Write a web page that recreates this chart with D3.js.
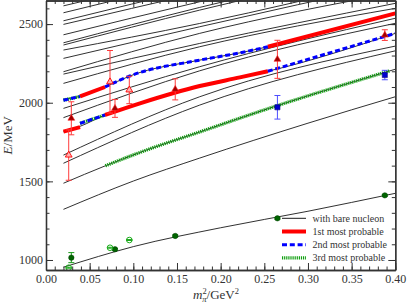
<!DOCTYPE html>
<html><head><meta charset="utf-8">
<script src="https://cdnjs.cloudflare.com/ajax/libs/d3/7.8.5/d3.min.js"></script>
<style>
body{margin:0;background:#fff}
text{font-family:"Liberation Serif",serif}
</style></head><body>
<svg id="chart" width="407" height="304"></svg>
<script>

// energy levels with bare nucleon, each [m_pi^2 (GeV^2), E (MeV)]
var levels = [
  [[0.02,954],[0.1,1085],[0.2,1205],[0.3,1310],[0.4,1424]],
  [[0.02,1322],[0.1,1502],[0.176,1648],[0.3,1870],[0.4,2038]],
  [[0.02,1488],[0.068,1599],[0.115,1699],[0.176,1814],[0.253,1960],[0.4,2213]],
  [[0.02,1615],[0.176,1985],[0.4,2330]],
  [[0.02,1667],[0.176,2038],[0.4,2360]],
  [[0.02,1816],[0.039,1850],[0.0676,1922],[0.1076,1996],[0.176,2106],[0.222,2161],[0.254,2200],[0.4,2441]],
  [[0.02,1905],[0.176,2203],[0.4,2505]],
  [[0.02,1964],[0.176,2229],[0.4,2537]],
  [[0.02,2023],[0.039,2040],[0.0676,2100],[0.096,2170],[0.176,2271],[0.222,2317],[0.254,2356],[0.4,2568]],
  [[0.02,2123],[0.176,2356],[0.4,2600]],
  [[0.02,2182],[0.176,2377],[0.4,2632]],
  [[0.02,2197],[0.176,2441],[0.4,2700]],
  [[0.02,2282],[0.176,2483],[0.4,2760]],
  [[0.02,2335],[0.176,2504],[0.4,2790]],
  [[0.02,2367],[0.176,2589],[0.4,2870]],
  [[0.02,2381],[0.176,2606],[0.4,2890]],
  [[0.02,2432],[0.176,2642],[0.4,2920]],
  [[0.02,2498],[0.176,2700],[0.4,2980]],
  [[0.02,2521],[0.176,2730],[0.4,3000]],
  [[0.02,2572],[0.176,2780],[0.4,3050]],
  [[0.02,2616],[0.176,2820],[0.4,3100]]
];

// most probable states, piecewise
var firstSegs = [
  [[0.02,1816],[0.039,1845]],
  [[0.039,2040],[0.0676,2100]],
  [[0.0676,1922],[0.1076,1996],[0.176,2106],[0.222,2161],[0.254,2200]],
  [[0.254,2356],[0.4,2568]]
];
var secondSegs = [
  [[0.02,2016],[0.039,2040]],
  [[0.039,1869],[0.0676,1922]],
  [[0.0676,2100],[0.096,2170],[0.176,2271],[0.222,2317],[0.254,2356]],
  [[0.254,2200],[0.4,2441]]
];
var thirdSegs = [
  [[0.02,2016],[0.039,2040]],
  [[0.039,1869],[0.0676,1922]],
  [[0.068,1599],[0.115,1699],[0.176,1814],[0.253,1960],[0.394,2203]]
];

// lattice set A (filled symbols)
var setA_m2 = [0.029, 0.079, 0.148, 0.265, 0.388];
var setA_nuc = [1015, 1068, 1153, 1265, 1411];
var setA_nucErr = [32, 6, 6, 6, 6];
var setA_first = [1901, 1964, 2085, 2276, 2430];
var setA_firstErr = [105, 57, 67, 121, 34];
var setA2_m2 = [0.265, 0.388];
var setA_second = [1971, 2176];
var setA_secondErr = [75, 30];

// lattice set B (open symbols)
var setB_m2 = [0.026, 0.0733, 0.0954];
var setB_nuc = [951, 1078, 1127];
var setB_nucErr = [3, 3, 3];
var setB_first = [1667, 2133, 2081];
var setB_firstErr = [160, 199, 87];

var legendLabels = ["with bare nucleon", "1st most probable", "2nd most probable", "3rd most probable"];

var xTicks = d3.range(0, 0.4001, 0.05);
var yTicks = [1000, 1500, 2000, 2500];

var svg = d3.select("#chart");
var pLeft = 46, pRight = 395.3, pTop = 0.5, pBottom = 270;

var x = d3.scaleLinear().domain([0, 0.4]).range([pLeft, pRight]);
var y = d3.scaleLinear().domain([936.4, 2650]).range([pBottom, pTop]);

svg.append("clipPath").attr("id", "clip")
  .append("rect").attr("x", pLeft).attr("y", pTop)
  .attr("width", pRight - pLeft).attr("height", pBottom - pTop);

var plot = svg.append("g").attr("clip-path", "url(#clip)");

var line = d3.line()
  .x(function (d) { return x(d[0]) })
  .y(function (d) { return y(d[1]) })
  .curve(d3.curveMonotoneX);

plot.selectAll(".level").data(levels).enter()
  .append("path").attr("class", "level")
  .attr("d", line)
  .style("fill", "none").style("stroke", "#1a1a1a").style("stroke-width", 0.9);

function drawSegs(segs, color, width, dash) {
  plot.selectAll(null).data(segs).enter()
    .append("path")
    .attr("d", line)
    .style("fill", "none")
    .style("stroke", color)
    .style("stroke-width", width)
    .style("stroke-dasharray", dash);
}
drawSegs(thirdSegs, "#11a011", 3.4, "1.2,0.9");
drawSegs(firstSegs, "#ff0000", 4, null);
drawSegs(secondSegs, "#0000ff", 3, "5,2.8");

// error bars
function errorBars(m2, vals, errs, color) {
  var g = plot.append("g").style("stroke", color).style("stroke-width", 1);
  m2.forEach(function (m, i) {
    var cx = x(m), y1 = y(vals[i] - errs[i]), y2 = y(vals[i] + errs[i]);
    g.append("line").attr("x1", cx).attr("x2", cx).attr("y1", y1).attr("y2", y2);
    g.append("line").attr("x1", cx - 3).attr("x2", cx + 3).attr("y1", y1).attr("y2", y1);
    g.append("line").attr("x1", cx - 3).attr("x2", cx + 3).attr("y1", y2).attr("y2", y2);
  });
}
errorBars(setA_m2, setA_first, setA_firstErr, "#ff3b3b");
errorBars(setB_m2, setB_first, setB_firstErr, "#ff3b3b");
errorBars(setA2_m2, setA_second, setA_secondErr, "#4d4dff");
errorBars(setA_m2, setA_nuc, setA_nucErr, "#1a9a1a");
errorBars(setB_m2, setB_nuc, setB_nucErr, "#1aaa1a");

var tri = d3.symbol().type(d3.symbolTriangle).size(20);
var sq = d3.symbol().type(d3.symbolSquare).size(26);

plot.selectAll(".triA").data(setA_first).enter()
  .append("path").attr("class", "triA").attr("d", tri)
  .attr("transform", function (d, i) { return "translate(" + x(setA_m2[i]) + "," + y(d) + ")" })
  .style("fill", "#a00000").style("stroke", "#ff2020").style("stroke-width", 0.6);

plot.selectAll(".triB").data(setB_first).enter()
  .append("path").attr("class", "triB").attr("d", tri)
  .attr("transform", function (d, i) { return "translate(" + x(setB_m2[i]) + "," + y(d) + ")" })
  .style("fill", "#ffb0b0").style("stroke", "#ff0000").style("stroke-width", 0.9);

plot.selectAll(".sqA").data(setA_second).enter()
  .append("path").attr("class", "sqA").attr("d", sq)
  .attr("transform", function (d, i) { return "translate(" + x(setA2_m2[i]) + "," + y(d) + ")" })
  .style("fill", "#0000d0").style("stroke", "#000080").style("stroke-width", 0.6);

plot.selectAll(".nucA").data(setA_nuc).enter()
  .append("circle").attr("class", "nucA")
  .attr("cx", function (d, i) { return x(setA_m2[i]) })
  .attr("cy", function (d) { return y(d) })
  .attr("r", 2.7)
  .style("fill", "#006400").style("stroke", "#004000").style("stroke-width", 0.5);

plot.selectAll(".nucB").data(setB_nuc).enter()
  .append("circle").attr("class", "nucB")
  .attr("cx", function (d, i) { return x(setB_m2[i]) })
  .attr("cy", function (d) { return y(d) })
  .attr("r", 2.8)
  .style("fill", "none").style("stroke", "#1aaa1a").style("stroke-width", 1);

// axes with inward ticks
function axisG(axis, tx, ty) {
  var g = svg.append("g").attr("transform", "translate(" + tx + "," + ty + ")").call(axis);
  g.selectAll("path,line").style("stroke", "#333");
  g.select(".domain").style("stroke-width", 1.3);
  g.selectAll("text").style("font-family", "Liberation Serif, serif").style("font-size", "12px").style("fill", "#333");
  return g;
}
var xMinor = d3.range(0, 0.4001, 0.01);
var yMinor = d3.range(1000, 2650, 100);

axisG(d3.axisBottom(x).tickValues(xMinor).tickSizeInner(-3.5).tickSizeOuter(0).tickFormat(""), 0, pBottom);
axisG(d3.axisBottom(x).tickValues(xTicks).tickSizeInner(-7).tickSizeOuter(0).tickPadding(4.5).tickFormat(d3.format(".2f")), 0, pBottom);
axisG(d3.axisTop(x).tickValues(xMinor).tickSizeInner(-3.5).tickSizeOuter(0).tickFormat(""), 0, pTop);
axisG(d3.axisTop(x).tickValues(xTicks).tickSizeInner(-7).tickSizeOuter(0).tickFormat(""), 0, pTop);
axisG(d3.axisLeft(y).tickValues(yMinor).tickSizeInner(-3.5).tickSizeOuter(0).tickFormat(""), pLeft, 0);
axisG(d3.axisLeft(y).tickValues(yTicks).tickSizeInner(-7).tickSizeOuter(0).tickPadding(3).tickFormat(d3.format("d")), pLeft, 0);
axisG(d3.axisRight(y).tickValues(yMinor).tickSizeInner(-3.5).tickSizeOuter(0).tickFormat(""), pRight, 0);
axisG(d3.axisRight(y).tickValues(yTicks).tickSizeInner(-7).tickSizeOuter(0).tickFormat(""), pRight, 0);

// axis titles
var yt = svg.append("text")
  .attr("transform", "translate(12," + ((pTop + pBottom) / 2) + ") rotate(-90)")
  .attr("text-anchor", "middle").style("font-size", "13px").style("fill", "#333");
yt.append("tspan").style("font-style", "italic").text("E");
yt.append("tspan").text("/MeV");

var xt = svg.append("text")
  .attr("x", 193).attr("y", 299)
  .style("font-size", "13px").style("fill", "#333");
xt.append("tspan").style("font-style", "italic").text("m");
xt.append("tspan").attr("dy", -5.5).style("font-size", "8.5px").text("2");
xt.append("tspan").attr("dx", -4.3).attr("dy", 8.5).style("font-size", "8.5px").style("font-style", "italic").text("π");
xt.append("tspan").attr("dy", -3).text("/GeV");
xt.append("tspan").attr("dy", -5).style("font-size", "8.5px").text("2");

// legend
var legStyles = [
  { color: "#1a1a1a", width: 1, dash: null },
  { color: "#ff0000", width: 4, dash: null },
  { color: "#0000ff", width: 3, dash: "5,2.8" },
  { color: "#11a011", width: 3.4, dash: "1.2,0.9" }
];
var leg = svg.append("g");
leg.selectAll("line").data(legendLabels).enter()
  .append("line")
  .attr("x1", 282).attr("x2", 306)
  .attr("y1", function (d, i) { return 218.3 + 13.2 * i })
  .attr("y2", function (d, i) { return 218.3 + 13.2 * i })
  .style("stroke", function (d, i) { return legStyles[i].color })
  .style("stroke-width", function (d, i) { return legStyles[i].width })
  .style("stroke-dasharray", function (d, i) { return legStyles[i].dash });
leg.selectAll("text").data(legendLabels).enter()
  .append("text")
  .attr("x", 312.5)
  .attr("y", function (d, i) { return 218.3 + 13.2 * i })
  .attr("dy", "0.33em")
  .style("font-size", "10px").style("fill", "#333")
  .text(function (d) { return d });

</script>
</body></html>
